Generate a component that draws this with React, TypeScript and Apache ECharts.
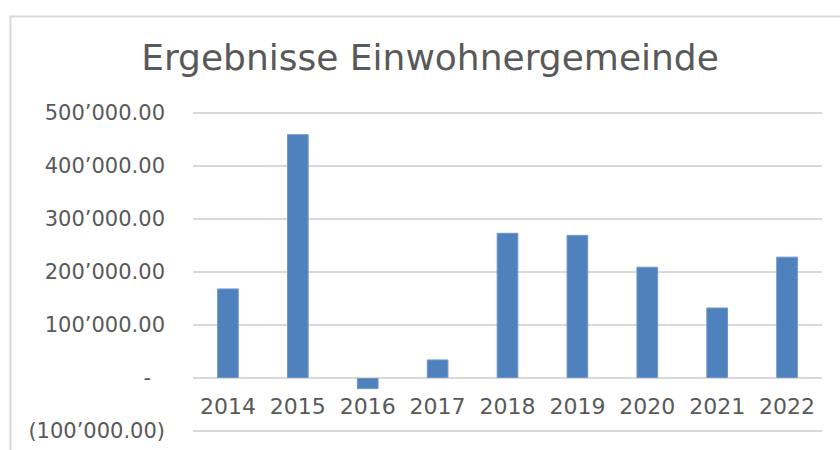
import React, { useEffect, useRef } from "react";
import * as echarts from "echarts";

const categories = ["2014", "2015", "2016", "2017", "2018", "2019", "2020", "2021", "2022"];
const values = [169000, 460000, -21000, 35000, 274000, 270000, 210000, 133000, 229000];
const yTicks = { min: -100000, max: 500000, interval: 100000 };
const title = "Ergebnisse Einwohnergemeinde";

const FONT = "DejaVu Sans";
const TXT = "#595959";

function fmt(v: number): string {
  if (v === 0) return "{d|-}";
  const abs = Math.abs(v);
  const s = abs.toFixed(2);
  const [intPart, dec] = s.split(".");
  const withSep = intPart.replace(/\B(?=(\d{3})+(?!\d))/g, "\u2019");
  const out = withSep + "." + dec;
  return v < 0 ? "(" + out + ")" : out;
}

export default function App() {
  const ref = useRef<HTMLDivElement>(null);
  useEffect(() => {
    document.body.style.margin = "0";
    const chart = echarts.init(ref.current!, undefined, { renderer: "svg" });
    chart.setOption({
      animation: false,
      backgroundColor: "#ffffff",
      textStyle: { fontFamily: FONT },
      graphic: [
        {
          type: "rect",
          left: 8,
          top: 14,
          shape: { x: 0, y: 0, width: 900, height: 500 },
          style: { fill: "none", stroke: "#d9d9d9", lineWidth: 2 },
          silent: true,
        },
        {
          type: "text",
          x: 430,
          y: 39,
          style: {
            text: title,
            fill: TXT,
            font: "normal 36px 'DejaVu Sans'",
            textAlign: "center",
            textVerticalAlign: "top",
          },
          silent: true,
        },
      ],
      grid: { left: 193, right: 18, top: 113, bottom: 19, containLabel: false, outerBoundsMode: "none" },
      xAxis: {
        type: "category",
        data: categories,
        offset: -53,
        axisLine: { show: false, onZero: false },
        axisTick: { show: false },
        axisLabel: { color: TXT, fontSize: 22, fontFamily: FONT, margin: 17, interval: 0 },
      },
      yAxis: {
        type: "value",
        min: yTicks.min,
        max: yTicks.max,
        interval: yTicks.interval,
        axisLine: { show: false },
        axisTick: { show: false },
        splitLine: { lineStyle: { color: "#d9d9d9", width: 2 } },
        axisLabel: {
          color: TXT,
          fontSize: 21,
          fontFamily: FONT,
          margin: 28,
          formatter: (v: number) => fmt(v),
          rich: { d: { color: TXT, fontSize: 21, fontFamily: FONT, padding: [0, 14, 0, 0] } },
        },
      },
      series: [
        {
          type: "bar",
          data: values,
          barWidth: "31%",
          itemStyle: { color: "#4f81bd", borderColor: "#6f97c9", borderWidth: 1 },
        },
      ],
    });
    return () => chart.dispose();
  }, []);
  return <div ref={ref} style={{ width: 840, height: 450 }} />;
}
